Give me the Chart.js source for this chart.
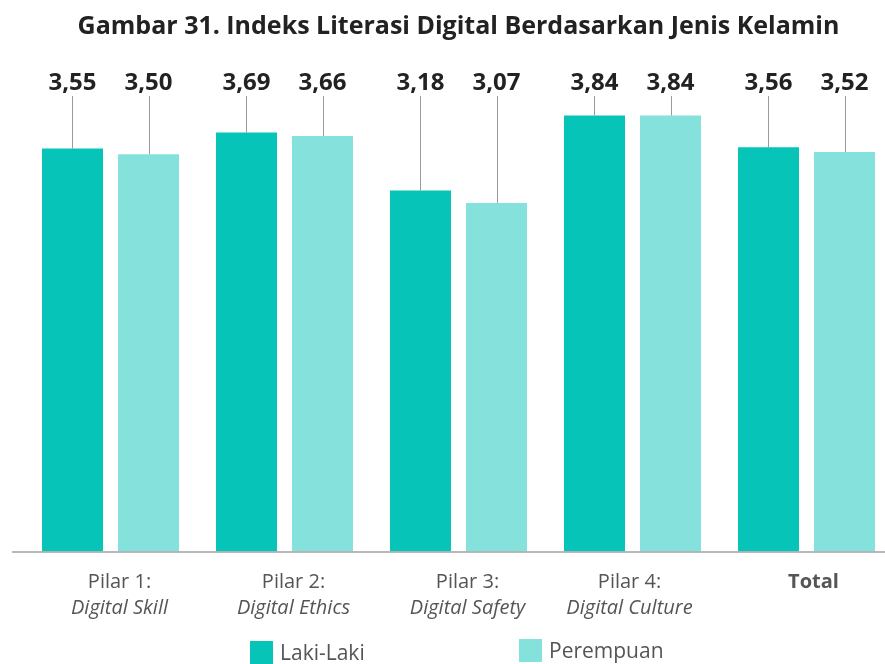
<!DOCTYPE html>
<html>
<head>
<meta charset="utf-8">
<script src="https://cdn.jsdelivr.net/npm/chart.js@4.4.1/dist/chart.umd.min.js"></script>
<style>
  html, body { margin: 0; padding: 0; background: #ffffff; overflow: hidden; }
  #wrap { width: 910px; height: 664px; }
</style>
</head>
<body>
<div id="wrap"><canvas id="chart" width="910" height="664"></canvas></div>
<script>
// Category headings (first line) and italic subtitles (second line)
const categoryTitles = ['Pilar 1:', 'Pilar 2:', 'Pilar 3:', 'Pilar 4:', 'Total'];
const categorySubtitles = ['Digital Skill', 'Digital Ethics', 'Digital Safety', 'Digital Culture', ''];

// Index values per gender
const lakiLaki = [3.55, 3.69, 3.18, 3.84, 3.56];
const perempuan = [3.50, 3.66, 3.07, 3.84, 3.52];

const seriesNames = ['Laki-Laki', 'Perempuan'];
const seriesColors = ['#06c4b8', '#84e1dc'];

const FONT = '"Open Sans", Lato, sans-serif';
const labelNudge = [9, 9, 9, -3, 7];

// Value labels above each bar with a thin leader line down to the bar top
const valueLabels = {
  id: 'valueLabels',
  afterDatasetsDraw(chart) {
    const ctx = chart.ctx;
    ctx.save();
    chart.data.datasets.forEach((ds, di) => {
      const meta = chart.getDatasetMeta(di);
      meta.data.forEach((bar, i) => {
        const x = Math.round(bar.x) + 0.5;
        ctx.strokeStyle = '#9a9a9a';
        ctx.lineWidth = 1;
        ctx.beginPath();
        ctx.moveTo(x, 96);
        ctx.lineTo(x, bar.y);
        ctx.stroke();
        ctx.fillStyle = '#222222';
        ctx.font = 'bold 24px ' + FONT;
        ctx.textAlign = 'center';
        ctx.textBaseline = 'middle';
        ctx.fillText(ds.data[i].toFixed(2).replace('.', ','), bar.x, 83);
      });
    });
    ctx.restore();
  }
};

// Baseline, two-line category labels and the legend row
const axisAndLegend = {
  id: 'axisAndLegend',
  afterDraw(chart) {
    const ctx = chart.ctx;
    const area = chart.chartArea;
    const xs = chart.scales.x;
    ctx.save();
    ctx.strokeStyle = '#a0a0a0';
    ctx.lineWidth = 1.5;
    ctx.beginPath();
    ctx.moveTo(12, area.bottom + 0.5);
    ctx.lineTo(chart.width, area.bottom + 0.5);
    ctx.stroke();

    ctx.fillStyle = '#555555';
    ctx.textAlign = 'center';
    ctx.textBaseline = 'middle';
    chart.data.labels.forEach((lab, i) => {
      const x = xs.getPixelForValue(i) + labelNudge[i];
      const isTotal = categorySubtitles[i] === '';
      ctx.font = (isTotal ? 'bold ' : '') + '20px ' + FONT;
      ctx.fillText(categoryTitles[i], x, 582);
      if (!isTotal) {
        ctx.font = 'italic 20px ' + FONT;
        ctx.fillText(categorySubtitles[i], x, 608);
      }
    });

    // legend
    const boxX = [250, 519];
    const boxY = [641, 639];
    ctx.textAlign = 'left';
    ctx.font = '21px ' + FONT;
    chart.data.datasets.forEach((ds, di) => {
      ctx.fillStyle = ds.backgroundColor;
      ctx.fillRect(boxX[di], boxY[di], 23, 23);
      ctx.fillStyle = '#555555';
      ctx.fillText(ds.label, boxX[di] + 30, boxY[di] + 13);
    });
    ctx.restore();
  }
};

new Chart(document.getElementById('chart'), {
  type: 'bar',
  data: {
    labels: categoryTitles,
    datasets: [
      { label: seriesNames[0], data: lakiLaki, backgroundColor: seriesColors[0] },
      { label: seriesNames[1], data: perempuan, backgroundColor: seriesColors[1] }
    ]
  },
  options: {
    responsive: false,
    animation: false,
    events: [],
    layout: { padding: { left: 23.5, right: 16.5, top: 0, bottom: 112.5 } },
    datasets: {
      bar: { categoryPercentage: 0.8736, barPercentage: 0.8026 }
    },
    scales: {
      x: { display: false },
      y: { display: false, min: 0, max: 4.4 }
    },
    plugins: {
      legend: { display: false },
      tooltip: { enabled: false },
      title: {
        display: true,
        text: 'Gambar 31. Indeks Literasi Digital Berdasarkan Jenis Kelamin',
        color: '#222222',
        font: { family: FONT, size: 25, weight: 'bold' },
        padding: { top: 12, bottom: 10 }
      }
    }
  },
  plugins: [valueLabels, axisAndLegend]
});
</script>
</body>
</html>
